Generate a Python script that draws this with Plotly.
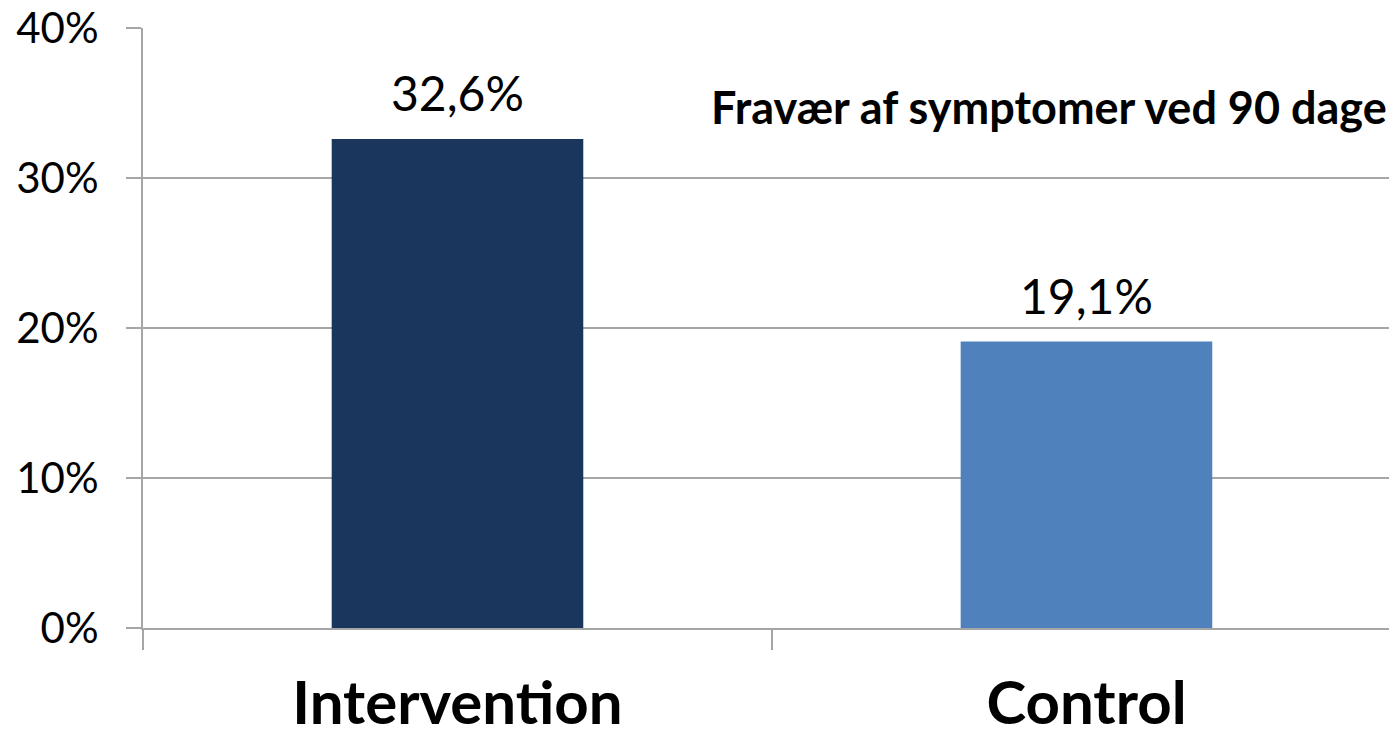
import plotly.graph_objects as go

categories = ["Intervention", "Control"]
values = [0.326, 0.191]
bar_colors = ["#1B365D", "#4F81BD"]
y_ticks = [0, 0.1, 0.2, 0.3, 0.4]
y_tick_labels = ["0%", "10%", "20%", "30%", "40%"]
title_text = "Fravær af symptomer ved 90 dage"

FONT = "Lato"
GRID = "#A6A6A6"

fig = go.Figure(
    go.Bar(
        x=list(range(len(categories))),
        y=values,
        width=0.4,
        marker=dict(color=bar_colors, line=dict(width=0)),
        hoverinfo="skip",
    )
)

# value labels above each bar, built from the same values
value_labels = [
    dict(
        x=i, y=v, xref="x", yref="y",
        text=f"{v * 100:.1f}%".replace(".", ","),
        showarrow=False,
        xanchor="center", yanchor="bottom",
        yshift=16,
        font=dict(family=FONT, size=48, color="#000000"),
    )
    for i, v in enumerate(values)
]

fig.update_layout(
    width=1389,
    height=735,
    margin=dict(l=143, r=0, t=28, b=107),
    paper_bgcolor="white",
    plot_bgcolor="white",
    showlegend=False,
    font=dict(family=FONT, color="#000000"),
    annotations=value_labels + [
        dict(
            text="<b>" + title_text + "</b>",
            xref="paper", yref="paper",
            x=1.0, y=0.868,
            xanchor="right", yanchor="middle",
            showarrow=False,
            font=dict(family=FONT, size=45, color="#000000"),
        )
    ],
)

fig.update_xaxes(
    range=[-0.5, 1.481],
    tickvals=list(range(len(categories))),
    ticktext=["<b>" + c + "</b>" for c in categories],
    tickfont=dict(family=FONT, size=60, color="#000000"),
    ticks="",
    ticklabelstandoff=22,
    automargin=False,
    showgrid=False,
    showline=True,
    linecolor=GRID,
    linewidth=2,
    zeroline=False,
    minor=dict(ticks="outside", tick0=0.5, dtick=1, ticklen=20,
               tickwidth=2, tickcolor=GRID, showgrid=False),
)

fig.update_yaxes(
    range=[0, 0.4],
    tickvals=y_ticks,
    ticktext=y_tick_labels,
    tickfont=dict(family=FONT, size=42, color="#000000"),
    ticks="outside",
    ticklen=15,
    tickwidth=2,
    tickcolor=GRID,
    ticklabelstandoff=19,
    automargin=False,
    showgrid=True,
    gridcolor=GRID,
    gridwidth=2,
    showline=True,
    linecolor=GRID,
    linewidth=2,
    zeroline=False,
)

fig.write_html("out.html")
